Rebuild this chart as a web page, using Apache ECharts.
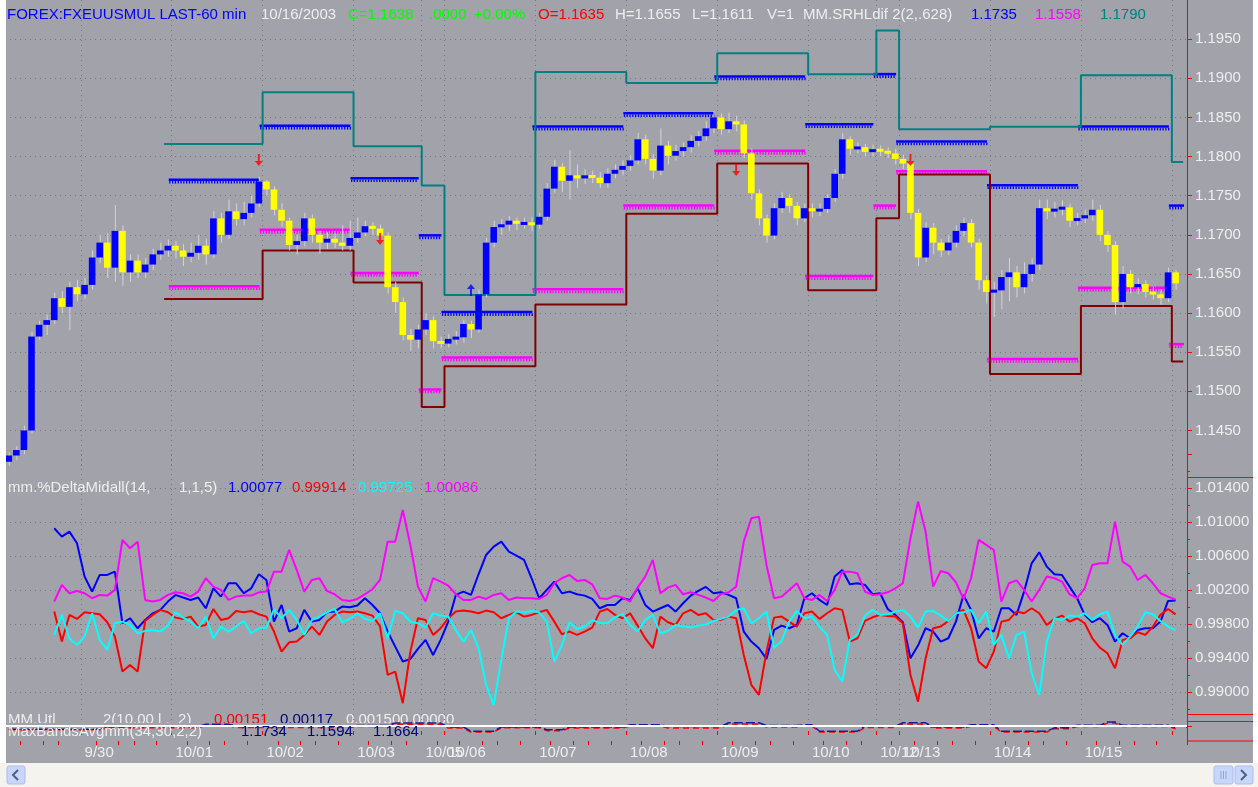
<!DOCTYPE html>
<html><head><meta charset="utf-8">
<script src="https://cdn.jsdelivr.net/npm/echarts/dist/echarts.min.js"></script>
<style>html,body{margin:0;padding:0;background:#fff;}#c{width:1258px;height:787px;}</style>
</head><body><div id="c"></div>
<script>
// ---------------- DATA ----------------
const dayLabels = ['9/29','9/30','10/01','10/02','10/03','10/05','10/06','10/07','10/08','10/09','10/10','10/12','10/13','10/14','10/15','10/16'];
const barsPerDay = [10,12,12,12,9,3,12,12,12,12,9,3,12,12,12,2];
const firstOpen = 1.1410;
const closes = [1.1418,1.1425,1.1450,1.1570,1.1585,1.1591,1.1619,1.1608,1.1633,1.1624,
 1.1636,1.1671,1.1690,1.1658,1.1705,1.1652,1.1667,1.1652,1.1662,1.1675,
 1.1680,1.1686,1.1680,1.1672,1.1677,1.1686,1.1675,1.1721,1.1700,1.1730,
 1.1720,1.1728,1.1740,1.1768,1.1758,1.1732,1.1718,1.1687,1.1692,1.1721,
 1.1700,1.1690,1.1695,1.1690,1.1686,1.1696,1.1703,1.1711,1.1708,1.1699,
 1.1633,1.1614,1.1572,1.1566,1.1579,1.1591,1.1564,1.1561,1.1567,1.1569,
 1.1586,1.1579,1.1624,1.1690,1.1710,1.1713,1.1718,1.1714,1.1715,1.1713,
 1.1723,1.1759,1.1787,1.1769,1.1776,1.1772,1.1776,1.1773,1.1766,1.1778,
 1.1783,1.1788,1.1795,1.1822,1.1797,1.1782,1.1814,1.1801,1.1807,1.1812,
 1.1820,1.1826,1.1836,1.1850,1.1835,1.1845,1.1841,1.1804,1.1753,1.1721,
 1.1699,1.1734,1.1747,1.1737,1.1721,1.1734,1.1730,1.1733,1.1747,1.1778,
 1.1822,1.1810,1.1812,1.1806,1.1809,1.1807,1.1804,1.1797,1.1791,1.1728,
 1.1671,1.1709,1.1690,1.1680,1.1690,1.1705,1.1715,1.1690,1.1642,1.1627,
 1.1629,1.1646,1.1652,1.1633,1.1650,1.1662,1.1734,1.1730,1.1733,1.1735,
 1.1718,1.1721,1.1725,1.1732,1.1700,1.1687,1.1614,1.1650,1.1633,1.1637,
 1.1627,1.1624,1.1619,1.1652,1.1638];
const highs = [1.1422,1.1430,1.1456,1.1576,1.1590,1.1598,1.1626,1.1628,1.1640,1.1642,
 1.1645,1.1680,1.1700,1.1702,1.1738,1.1712,1.1675,1.1675,1.1670,1.1682,
 1.1690,1.1694,1.1692,1.1688,1.1690,1.1700,1.1695,1.1730,1.1728,1.1745,
 1.1740,1.1742,1.1750,1.1774,1.1770,1.1762,1.1740,1.1722,1.1700,1.1728,
 1.1726,1.1705,1.1703,1.1702,1.1712,1.1718,1.1722,1.1718,1.1716,1.1713,
 1.1703,1.1640,1.1620,1.1580,1.1585,1.1600,1.1596,1.1570,1.1573,1.1577,
 1.1592,1.1590,1.1630,1.1696,1.1718,1.1720,1.1724,1.1722,1.1722,1.1722,
 1.1728,1.1766,1.1796,1.1792,1.1808,1.1790,1.1784,1.1782,1.1780,1.1785,
 1.1790,1.1795,1.1802,1.1830,1.1828,1.1803,1.1836,1.1820,1.1815,1.1818,
 1.1827,1.1833,1.1845,1.1858,1.1855,1.1856,1.1852,1.1846,1.1810,1.1758,
 1.1726,1.1740,1.1755,1.1752,1.1742,1.1740,1.1740,1.1740,1.1752,1.1784,
 1.1830,1.1826,1.1818,1.1816,1.1815,1.1814,1.1812,1.1810,1.1802,1.1796,
 1.1733,1.1716,1.1715,1.1695,1.1700,1.1712,1.1722,1.1720,1.1695,1.1648,
 1.1640,1.1655,1.1670,1.1660,1.1665,1.1670,1.1745,1.1745,1.1742,1.1744,
 1.1740,1.1728,1.1732,1.1745,1.1738,1.1705,1.1692,1.1660,1.1655,1.1645,
 1.1642,1.1634,1.1630,1.1658,1.1655];
const lows = [1.1405,1.1412,1.1420,1.1446,1.1566,1.1572,1.1586,1.1600,1.1578,1.1615,
 1.1618,1.1630,1.1664,1.1645,1.1640,1.1635,1.1640,1.1645,1.1645,1.1655,
 1.1668,1.1672,1.1670,1.1660,1.1665,1.1668,1.1662,1.1670,1.1690,1.1695,
 1.1712,1.1712,1.1722,1.1735,1.1750,1.1725,1.1710,1.1680,1.1675,1.1685,
 1.1690,1.1676,1.1682,1.1683,1.1680,1.1680,1.1690,1.1698,1.1700,1.1690,
 1.1625,1.1600,1.1565,1.1552,1.1555,1.1572,1.1555,1.1555,1.1556,1.1560,
 1.1562,1.1568,1.1575,1.1620,1.1684,1.1700,1.1705,1.1706,1.1708,1.1705,
 1.1708,1.1718,1.1754,1.1755,1.1745,1.1760,1.1765,1.1766,1.1760,1.1760,
 1.1772,1.1776,1.1782,1.1790,1.1790,1.1772,1.1776,1.1790,1.1795,1.1800,
 1.1805,1.1813,1.1820,1.1830,1.1828,1.1830,1.1832,1.1798,1.1745,1.1712,
 1.1690,1.1694,1.1728,1.1728,1.1712,1.1716,1.1722,1.1724,1.1728,1.1742,
 1.1772,1.1802,1.1804,1.1800,1.1800,1.1800,1.1798,1.1790,1.1784,1.1720,
 1.1660,1.1665,1.1675,1.1672,1.1674,1.1684,1.1698,1.1684,1.1630,1.1612,
 1.1595,1.1605,1.1615,1.1620,1.1625,1.1640,1.1655,1.1720,1.1722,1.1725,
 1.1710,1.1712,1.1715,1.1718,1.1692,1.1678,1.1598,1.1606,1.1625,1.1624,
 1.1620,1.1617,1.1611,1.1614,1.1630];

// daily indicator levels, one per day from 10/01 to 10/16
const levelDays = ['10/01','10/02','10/03','10/05','10/06','10/07','10/08','10/09','10/10','10/12','10/13','10/14','10/15','10/16'];
const tealLevels    = [1.1816,1.1882,1.1813,1.1763,1.1623,1.1908,1.1894,1.1932,1.1905,1.1961,1.1835,1.1838,1.1904,1.1793];
const maroonLevels  = [1.1618,1.1680,1.1639,1.1480,1.1532,1.1611,1.1727,1.1791,1.1629,1.1721,1.1777,1.1522,1.1609,1.1538];
const blueLevels    = [1.1770,1.1839,1.1772,1.1699,1.1601,1.1838,1.1855,1.1902,1.1841,1.1905,1.1819,1.1763,1.1838,1.1737];
const magentaLevels = [1.1634,1.1706,1.1651,1.1502,1.1543,1.1630,1.1737,1.1807,1.1647,1.1737,1.1781,1.1541,1.1632,1.1560];
const lineLeadBar = 21;

const downArrows = [[33,1.1788],[49,1.1687],[96,1.1775],[119,1.1788]];
const upArrows = [[61,1.1637]];

// %DeltaMidall oscillator (starts at bar 6)
const oscStart = 6;
const oscBlue = [1.00926,1.00828,1.00887,1.00750,1.00358,1.00181,1.00377,1.00377,1.00416,0.99809,
 0.99868,0.99750,0.99848,0.99926,0.99966,1.00064,1.00142,1.00111,1.00083,1.00111,
 0.99985,1.00220,1.00122,1.00279,1.00279,1.00162,1.00220,1.00385,1.00318,0.99828,
 1.00024,0.99711,0.99750,0.99966,0.99828,0.99848,0.99938,0.99946,1.00005,0.99997,
 1.00017,1.00103,1.00024,0.99926,0.99711,0.99534,0.99358,0.99389,0.99507,0.99613,
 0.99436,0.99613,0.99828,1.00142,1.00181,1.00142,1.00385,1.00612,1.00710,1.00769,
 1.00652,1.00605,1.00554,1.00338,1.00103,1.00201,1.00299,1.00162,1.00181,1.00150,
 1.00134,1.00095,0.99985,1.00024,1.00024,1.00103,1.00083,1.00220,1.00024,0.99946,
 0.99985,1.00024,0.99946,1.00044,1.00134,1.00189,1.00236,1.00162,1.00173,1.00142,
 1.00103,0.99711,0.99593,0.99515,0.99389,0.99730,0.99781,0.99750,0.99789,1.00103,
 1.00162,1.00083,1.00024,1.00358,1.00436,1.00267,1.00279,1.00260,1.00150,1.00162,
 0.99977,0.99907,0.99821,0.99397,0.99546,0.99750,0.99711,0.99593,0.99632,0.99828,
 1.00142,0.99966,0.99632,0.99750,0.99711,0.99985,0.99985,0.99907,1.00181,1.00514,
 1.00644,1.00475,1.00385,1.00377,1.00240,1.00103,0.99907,0.99821,0.99868,0.99789,
 0.99593,0.99691,0.99632,0.99730,0.99750,0.99750,0.99828,1.00071,1.00077];
const oscRed = [0.99946,0.99593,0.99907,0.99860,0.99938,0.99926,0.99915,0.99821,0.99652,0.99240,
 0.99319,0.99240,0.99836,0.99907,0.99966,0.99938,0.99875,0.99860,0.99887,0.99770,
 0.99789,0.99977,0.99848,0.99868,0.99954,0.99938,0.99954,0.99915,0.99887,0.99711,
 0.99475,0.99585,0.99593,0.99672,0.99770,0.99672,0.99828,0.99907,0.99946,0.99938,
 0.99946,0.99926,0.99899,0.99770,0.99201,0.99240,0.98868,0.99475,0.99868,0.99848,
 0.99672,0.99750,0.99868,0.99946,0.99958,0.99946,0.99926,0.99958,0.99938,0.99868,
 0.99907,0.99938,0.99887,0.99907,0.99938,0.99966,0.99828,0.99679,0.99711,0.99672,
 0.99711,0.99758,0.99946,0.99977,0.99907,0.99868,0.99926,0.99781,0.99632,0.99515,
 0.99887,0.99821,0.99789,0.99926,0.99966,0.99907,0.99926,0.99848,0.99848,0.99887,
 0.99868,0.99436,0.99084,0.98966,0.99475,0.99875,0.99887,0.99828,0.99770,0.99926,
 0.99946,0.99860,0.99926,0.99985,0.99966,0.99593,0.99632,0.99836,0.99879,0.99907,
 0.99895,0.99887,0.99809,0.99201,0.98887,0.99397,0.99750,0.99770,0.99836,0.99926,
 0.99966,0.99750,0.99358,0.99280,0.99475,0.99828,0.99848,0.99946,0.99926,0.99985,
 0.99926,0.99789,0.99860,0.99899,0.99828,0.99868,0.99809,0.99632,0.99522,0.99456,
 0.99280,0.99613,0.99632,0.99703,0.99672,0.99770,0.99907,0.99977,0.99914];
const oscCyan = [0.99672,0.99907,0.99632,0.99554,0.99652,0.99926,0.99613,0.99495,0.99809,0.99828,
 0.99789,0.99691,0.99719,0.99730,0.99711,0.99781,0.99938,0.99875,0.99828,0.99750,
 0.99887,0.99632,0.99770,0.99711,0.99770,0.99836,0.99691,0.99750,0.99758,0.99973,
 0.99868,0.99966,0.99848,0.99672,0.99848,0.99887,0.99938,0.99977,0.99821,0.99860,
 0.99926,0.99860,0.99836,0.99926,0.99632,0.99954,0.99926,0.99828,0.99809,0.99758,
 0.99926,0.99899,0.99887,0.99730,0.99593,0.99730,0.99515,0.99084,0.98848,0.99378,
 0.99868,0.99946,0.99938,0.99954,0.99938,0.99828,0.99358,0.99554,0.99821,0.99742,
 0.99770,0.99848,0.99809,0.99809,0.99879,0.99919,0.99789,0.99711,0.99848,0.99907,
 0.99691,0.99719,0.99789,0.99770,0.99758,0.99781,0.99797,0.99836,0.99860,0.99887,
 0.99966,0.99985,0.99809,0.99868,0.99946,0.99522,0.99601,0.99828,0.99954,0.99868,
 0.99887,0.99770,0.99672,0.99260,0.99123,0.99613,0.99672,0.99899,0.99966,0.99907,
 0.99915,0.99946,0.99966,0.99887,0.99758,0.99946,0.99954,0.99899,0.99836,0.99926,
 0.99938,0.99966,0.99809,0.99946,0.99554,0.99672,0.99397,0.99672,0.99711,0.99221,
 0.98966,0.99593,0.99868,0.99848,0.99899,0.99887,0.99926,0.99848,0.99915,0.99946,
 0.99672,0.99554,0.99652,0.99770,0.99938,0.99915,0.99836,0.99770,0.99725];
const oscMagenta = [1.00064,1.00260,1.00162,1.00189,1.00162,1.00103,1.00142,1.00134,1.00201,1.00789,
 1.00691,1.00769,1.00083,1.00064,1.00083,1.00142,1.00173,1.00162,1.00122,1.00181,
 1.00338,1.00240,1.00201,1.00083,1.00122,1.00134,1.00134,1.00173,1.00181,1.00416,
 1.00416,1.00671,1.00436,1.00181,1.00318,1.00338,1.00189,1.00150,1.00083,1.00071,
 1.00095,1.00150,1.00209,1.00318,1.00769,1.00769,1.01142,1.00730,1.00240,1.00064,
 1.00338,1.00299,1.00252,1.00150,1.00083,1.00083,1.00122,1.00095,1.00142,1.00162,
 1.00083,1.00111,1.00103,1.00103,1.00095,1.00142,1.00279,1.00338,1.00377,1.00307,
 1.00318,1.00267,1.00103,1.00095,1.00134,1.00111,1.00064,1.00228,1.00358,1.00554,
 1.00162,1.00228,1.00260,1.00150,1.00173,1.00142,1.00111,1.00071,1.00154,1.00173,
 1.00240,1.00769,1.01044,1.01063,1.00495,1.00103,1.00122,1.00201,1.00279,1.00103,
 1.00083,1.00142,1.00071,1.00201,1.00416,1.00416,1.00397,1.00181,1.00142,1.00150,
 1.00173,1.00220,1.00279,1.00808,1.01240,1.00887,1.00240,1.00424,1.00397,1.00291,
 1.00095,1.00338,1.00789,1.00730,1.00671,1.00064,1.00279,1.00314,1.00201,1.00064,
 1.00201,1.00358,1.00338,1.00299,1.00150,1.00103,1.00220,1.00495,1.00514,1.00514,
 1.01004,1.00534,1.00475,1.00318,1.00377,1.00279,1.00162,1.00122,1.00086];

// MaxBandsAvg mini panel: [startBar, endBar, value]
const miniBlue = [[0,12,-0.8],[13,25,0.2],[26,29,1.0],[30,45,0.3],[46,50,0.5],[51,57,1.4],[58,60,0],[61,64,-1.5],[65,70,0],[71,73,-1.0],[74,81,0],[82,86,0.8],[87,94,0.2],[95,99,1.5],[100,104,0.5],[105,106,0.8],[107,112,-1.5],[113,117,0.3],[118,121,1.5],[122,126,0],[127,130,0.8],[131,137,-1.5],[138,140,-0.3],[141,144,0.6],[145,146,1.8],[147,153,0.6],[154,154,-0.3]];
const miniRed = [[0,12,-1.0],[13,25,-0.3],[26,29,0.6],[30,45,-0.2],[46,50,0.2],[51,57,1.0],[58,60,-0.4],[61,64,-1.8],[65,70,-0.3],[71,73,-1.3],[74,81,-0.4],[82,86,0.3],[87,94,-0.4],[95,99,1.1],[100,104,0],[105,106,0.4],[107,112,-1.8],[113,117,-0.2],[118,121,1.1],[122,126,-0.4],[127,130,0.3],[131,137,-1.8],[138,140,-0.6],[141,144,0.2],[145,146,1.4],[147,153,0.2],[154,154,-0.6]];

const headerTexts = [
 ['FOREX:FXEUUSMUL LAST-60 min', 7, '#0000ff'], ['10/16/2003', 261, '#eeeeee'], ['C=1.1638', 348, '#00ff00'],
 ['.0000', 429, '#00ff00'], ['+0.00%', 474, '#00ff00'], ['O=1.1635', 538, '#ff0000'], ['H=1.1655', 615, '#eeeeee'],
 ['L=1.1611', 692, '#eeeeee'], ['V=1', 767, '#eeeeee'], ['MM.SRHLdif 2(2,.628)', 803, '#eeeeee'],
 ['1.1735', 971, '#0000ff'], ['1.1558', 1035, '#ff00ff'], ['1.1790', 1100, '#008080']];
const oscTexts = [['mm.%DeltaMidall(14,', 8, '#eeeeee'], ['1,1,5)', 179, '#eeeeee'], ['1.00077', 228, '#0000ff'],
 ['0.99914', 292, '#ff0000'], ['0.99725', 358, '#00ffff'], ['1.00086', 424, '#ff00ff']];
const utTexts = [['MM.Utl', 8, '#eeeeee'], ['2(10.00 l ,  2)', 103, '#eeeeee'], ['0.00151', 214, '#ff0000'],
 ['0.00117', 280, '#000080'], ['0.00150', 346, '#eeeeee'], ['0.00000', 400, '#eeeeee']];
const bandTexts = [['MaxBandsAvgmm(34,30,2,2)', 8, '#eeeeee'], ['1.1734', 241, '#000080'], ['1.1594', 307, '#000080'], ['1.1664', 373, '#000080']];

// ---------------- BUILD ----------------
const BG = '#a2a2aa', GRIDC = '#77777f', RED = '#ff0000', LBL = '#eeeeee', FONT = 'Liberation Sans';
const categories = [], dayStart = [];
dayLabels.forEach((d, k) => {
  dayStart.push(categories.length);
  for (let j = 0; j < barsPerDay[k]; j++) categories.push(d + ' ' + String(j * 2).padStart(2, '0') + ':00');
});
const dayStartSet = new Set(dayStart);
const minorSet = new Set();
dayStart.forEach((s, k) => [2, 5, 7, 10].forEach(o => { if (o < barsPerDay[k]) minorSet.add(s + o); }));
const labelSet = new Set(dayStart.slice(1, dayStart.length - 1));
const levelDayIdx = levelDays.map(d => dayLabels.indexOf(d));

function levelLine(levels) {
  const arr = new Array(categories.length).fill(null);
  levelDayIdx.forEach((di, k) => { for (let i = dayStart[di]; i < dayStart[di] + barsPerDay[di]; i++) arr[i] = levels[k]; });
  arr[lineLeadBar] = levels[0];
  return arr;
}
function combData(levels) {
  return levelDayIdx.map((di, k) => [dayStart[di], dayStart[di] + barsPerDay[di] - 1, levels[k]]);
}
function segLine(segs) {
  const arr = new Array(closes.length).fill(null);
  segs.forEach(([s, e, v]) => { for (let i = s; i <= e; i++) arr[i] = v; });
  return arr;
}
const pad = a => new Array(oscStart).fill(null).concat(a);
const candleData = closes.map((c, i) => [i, i === 0 ? firstOpen : closes[i - 1], c, lows[i], highs[i]]);

function renderCandle(params, api) {
  const i = api.value(0), o = api.value(1), c = api.value(2), l = api.value(3), h = api.value(4);
  const pO = api.coord([i, o]), pC = api.coord([i, c]);
  const yL = api.coord([i, l])[1], yH = api.coord([i, h])[1];
  const x = pO[0], bw = 6.6;
  let top = Math.min(pO[1], pC[1]), bot = Math.max(pO[1], pC[1]);
  if (bot - top < 3) { const m = (top + bot) / 2; top = m - 1.5; bot = m + 1.5; }
  return { type: 'group', children: [
    { type: 'line', shape: { x1: x + 0.5, y1: yH, x2: x + 0.5, y2: yL }, style: { stroke: '#d4d4d8', lineWidth: 1 } },
    { type: 'rect', shape: { x: x - bw / 2, y: top, width: bw, height: bot - top }, style: { fill: c >= o ? '#0000ff' : '#ffff00' } }
  ]};
}
function renderComb(color) {
  return function (params, api) {
    const s = api.value(0), e = api.value(1), v = api.value(2);
    const bw = api.size([1, 0])[0];
    const p0 = api.coord([s, v]), p1 = api.coord([e, v]);
    const x0 = p0[0] - bw / 2 - 3, x1 = p1[0] + bw / 2 - 3, y = p0[1];
    const ch = [{ type: 'rect', shape: { x: x0, y: y - 1.5, width: x1 - x0, height: 2.5 }, style: { fill: color } }];
    for (let t = x0 + 0.5; t < x1 - 0.8; t += 2.8) ch.push({ type: 'rect', shape: { x: t, y: y + 1, width: 1.3, height: 2.6 }, style: { fill: color } });
    return { type: 'group', children: ch };
  };
}

function txt(list, y, z) {
  return list.map(([t, x, c]) => ({ type: 'text', x: x, y: y, z: z, silent: true,
    style: { text: t, fill: c, font: '15px "' + FONT + '"', verticalAlign: 'middle' } }));
}
const splitColors = n => { const a = new Array(n).fill(GRIDC); a[0] = 'transparent'; a[n - 1] = 'transparent'; return a; };

const xBase = (gi) => ({ type: 'category', gridIndex: gi, data: categories, boundaryGap: true, position: 'bottom',
  axisLine: { show: false }, axisTick: { show: false }, axisLabel: { show: false },
  splitLine: { show: true, interval: (i) => dayStartSet.has(i) && i > 0, lineStyle: { color: GRIDC, type: [1, 4], width: 1 } } });

const option = {
  backgroundColor: BG,
  animation: false,
  grid: [
    { left: 5, right: 71, top: -5.6, height: 475.2 },
    { left: 5, right: 71, top: 454, height: 272 },
    { left: 5, right: 71, top: 713, height: 28 }
  ],
  xAxis: [
    xBase(0), xBase(1),
    { type: 'category', gridIndex: 2, data: categories, boundaryGap: true, position: 'bottom',
      axisLine: { show: true, lineStyle: { color: RED, width: 1 } },
      axisTick: { show: true, interval: (i) => dayStartSet.has(i) && i > 0, length: 8, lineStyle: { color: RED } },
      axisLabel: { show: true, interval: (i) => labelSet.has(i), formatter: v => v.split(' ')[0], color: LBL,
        fontSize: 15, fontFamily: FONT, align: 'left', margin: 4 },
      splitLine: { show: false } },
    { type: 'category', gridIndex: 2, data: categories, boundaryGap: true, position: 'bottom',
      axisLine: { show: false }, axisLabel: { show: false }, splitLine: { show: false },
      axisTick: { show: true, interval: (i) => minorSet.has(i), length: 4, lineStyle: { color: RED } } }
  ],
  yAxis: [
    { type: 'value', gridIndex: 0, position: 'right', min: 1.1400, max: 1.2000, interval: 0.005,
      axisLine: { show: true, lineStyle: { color: RED, width: 1 } },
      axisTick: { show: true, length: 5, lineStyle: { color: RED } },
      axisLabel: { color: LBL, fontSize: 15, fontFamily: FONT, margin: 8, showMinLabel: false, showMaxLabel: false, formatter: v => v.toFixed(4) },
      splitLine: { show: true, lineStyle: { color: splitColors(13), type: [1, 4] } } },
    { type: 'value', gridIndex: 1, position: 'right', min: 0.986, max: 1.018, interval: 0.004,
      axisLine: { show: true, lineStyle: { color: RED, width: 1 } },
      axisTick: { show: true, length: 5, lineStyle: { color: RED } },
      minorTick: { show: true, splitNumber: 2, length: 3, lineStyle: { color: RED } },
      axisLabel: { color: LBL, fontSize: 15, fontFamily: FONT, margin: 8, showMinLabel: false, showMaxLabel: false, formatter: v => v.toFixed(5) },
      splitLine: { show: true, lineStyle: { color: splitColors(9), type: [1, 4] } } },
    { type: 'value', gridIndex: 2, position: 'right', min: -5, max: 5,
      axisLine: { show: true, lineStyle: { color: RED, width: 1 } }, axisTick: { show: false }, axisLabel: { show: false }, splitLine: { show: false } }
  ],
  series: [
    { type: 'custom', xAxisIndex: 0, yAxisIndex: 0, z: 2, silent: true, renderItem: renderComb('#0000ff'), data: combData(blueLevels), encode: { x: [0, 1], y: 2 } },
    { type: 'custom', xAxisIndex: 0, yAxisIndex: 0, z: 2, silent: true, renderItem: renderComb('#ff00ff'), data: combData(magentaLevels), encode: { x: [0, 1], y: 2 } },
    { type: 'line', xAxisIndex: 0, yAxisIndex: 0, z: 3, step: 'middle', showSymbol: false, silent: true, data: levelLine(tealLevels), lineStyle: { color: '#008080', width: 2 } },
    { type: 'line', xAxisIndex: 0, yAxisIndex: 0, z: 3, step: 'middle', showSymbol: false, silent: true, data: levelLine(maroonLevels), lineStyle: { color: '#800000', width: 2 } },
    { type: 'custom', xAxisIndex: 0, yAxisIndex: 0, z: 4, silent: true, renderItem: renderCandle, data: candleData, encode: { x: 0, y: [1, 2, 3, 4] } },
    { type: 'scatter', xAxisIndex: 0, yAxisIndex: 0, z: 5, silent: true, data: downArrows,
      symbol: 'path://M3,0L5,0L5,7L8,7L4,12L0,7L3,7Z', symbolSize: [8, 12], symbolOffset: [0, -6], itemStyle: { color: '#ff0000' } },
    { type: 'scatter', xAxisIndex: 0, yAxisIndex: 0, z: 5, silent: true, data: upArrows,
      symbol: 'path://M4,0L8,5L5,5L5,12L3,12L3,5L0,5Z', symbolSize: [8, 12], symbolOffset: [0, 6], itemStyle: { color: '#0000ff' } },
    { type: 'line', xAxisIndex: 1, yAxisIndex: 1, z: 3, showSymbol: false, silent: true, data: pad(oscBlue), lineStyle: { color: '#0000ff', width: 2 } },
    { type: 'line', xAxisIndex: 1, yAxisIndex: 1, z: 3, showSymbol: false, silent: true, data: pad(oscRed), lineStyle: { color: '#ff0000', width: 2 } },
    { type: 'line', xAxisIndex: 1, yAxisIndex: 1, z: 3, showSymbol: false, silent: true, data: pad(oscCyan), lineStyle: { color: '#00ffff', width: 2 } },
    { type: 'line', xAxisIndex: 1, yAxisIndex: 1, z: 3, showSymbol: false, silent: true, data: pad(oscMagenta), lineStyle: { color: '#ff00ff', width: 2 } },
    { type: 'line', xAxisIndex: 2, yAxisIndex: 2, z: 3, showSymbol: false, silent: true, data: segLine(miniRed), lineStyle: { color: '#ff0000', width: 1.5, type: [6, 4] } },
    { type: 'line', xAxisIndex: 2, yAxisIndex: 2, z: 3, showSymbol: false, silent: true, data: segLine(miniBlue), lineStyle: { color: '#1a1a9a', width: 1.5, type: [9, 3] },
      markLine: { silent: true, symbol: 'none', label: { show: false }, lineStyle: { color: '#ffffff', width: 2, type: 'solid' }, data: [{ yAxis: 0.4 }] } }
  ],
  graphic: [
    ...txt(utTexts, 720, 0),
    { type: 'rect', z: 1, silent: true, shape: { x: 6, y: 723, width: 1180, height: 8 }, style: { fill: BG } },
    ...txt(headerTexts, 15, 100),
    ...txt(oscTexts, 488, 100),
    ...txt(bandTexts, 732, 100),
    { type: 'line', z: 100, silent: true, shape: { x1: 1187, y1: 477.5, x2: 1253, y2: 477.5 }, style: { stroke: RED, lineWidth: 1 } },
    { type: 'line', z: 100, silent: true, shape: { x1: 1187, y1: 714.5, x2: 1253, y2: 714.5 }, style: { stroke: RED, lineWidth: 1 } },
    { type: 'line', z: 100, silent: true, shape: { x1: 1187, y1: 721.5, x2: 1253, y2: 721.5 }, style: { stroke: RED, lineWidth: 1 } },
    { type: 'line', z: 100, silent: true, shape: { x1: 1187, y1: 741, x2: 1253, y2: 741 }, style: { stroke: RED, lineWidth: 1 } },
    { type: 'rect', z: 100, silent: true, shape: { x: 0, y: 0, width: 6, height: 787 }, style: { fill: '#ffffff' } },
    { type: 'rect', z: 100, silent: true, shape: { x: 1253, y: 0, width: 5, height: 787 }, style: { fill: '#ffffff' } },
    { type: 'rect', z: 100, silent: true, shape: { x: 0, y: 763, width: 1258, height: 24 }, style: { fill: '#f4f3ee' } },
    { type: 'rect', z: 101, silent: true, shape: { x: 7, y: 766, width: 18, height: 18, r: 2 }, style: { fill: '#c8d6fa', stroke: '#a9bdf0' } },
    { type: 'polyline', z: 102, silent: true, shape: { points: [[18, 770], [13, 775], [18, 780]] }, style: { stroke: '#4d6185', lineWidth: 2, fill: null } },
    { type: 'rect', z: 101, silent: true, shape: { x: 1214, y: 766, width: 19, height: 18, r: 2 }, style: { fill: '#c8d6fa', stroke: '#a9bdf0' } },
    { type: 'line', z: 102, silent: true, shape: { x1: 1221, y1: 771, x2: 1221, y2: 779 }, style: { stroke: '#8ea3d6' } },
    { type: 'line', z: 102, silent: true, shape: { x1: 1223.5, y1: 771, x2: 1223.5, y2: 779 }, style: { stroke: '#8ea3d6' } },
    { type: 'line', z: 102, silent: true, shape: { x1: 1226, y1: 771, x2: 1226, y2: 779 }, style: { stroke: '#8ea3d6' } },
    { type: 'rect', z: 101, silent: true, shape: { x: 1235, y: 766, width: 18, height: 18, r: 2 }, style: { fill: '#c8d6fa', stroke: '#a9bdf0' } },
    { type: 'polyline', z: 102, silent: true, shape: { points: [[1241, 770], [1246, 775], [1241, 780]] }, style: { stroke: '#4d6185', lineWidth: 2, fill: null } }
  ]
};
const chart = echarts.init(document.getElementById('c'), null, { renderer: 'canvas', width: 1258, height: 787 });
chart.setOption(option);
</script></body></html>
